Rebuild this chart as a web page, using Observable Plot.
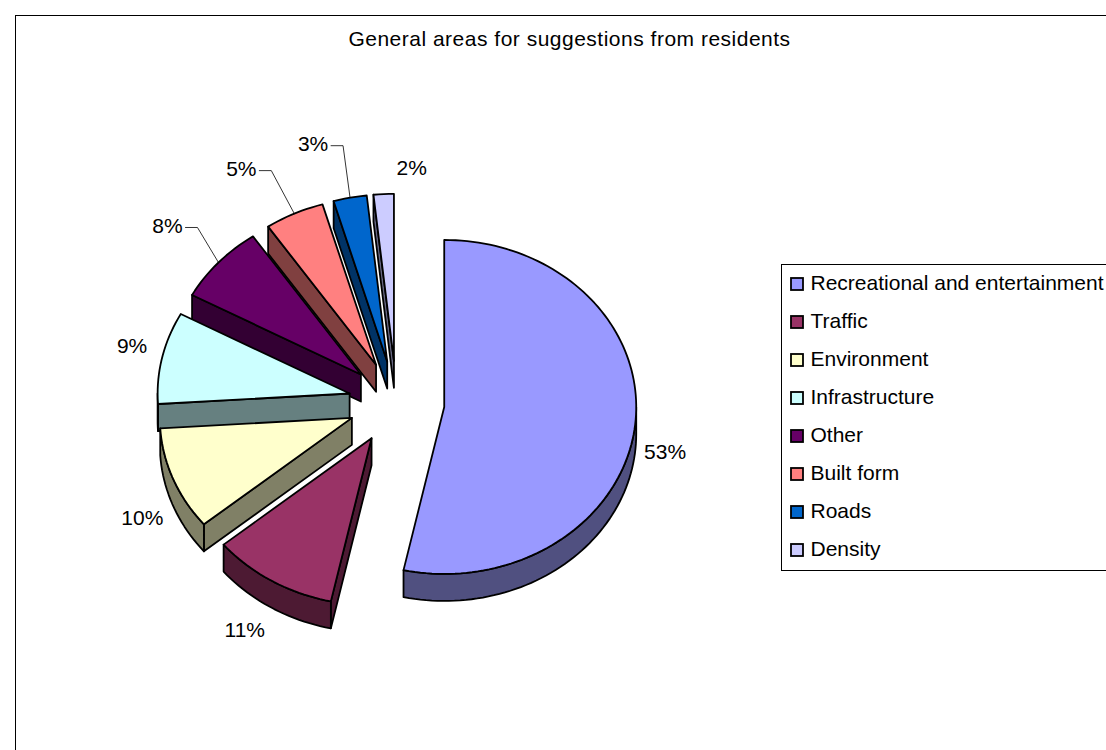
<!DOCTYPE html>
<html><head><meta charset="utf-8">
<script src="https://cdn.jsdelivr.net/npm/d3@7"></script>
<script src="https://cdn.jsdelivr.net/npm/@observablehq/plot@0.6"></script>
<style>html,body{margin:0;padding:0;background:#fff;overflow:hidden}svg{display:block}</style>
</head><body><div id="chart"></div>
<script>
const categories = ["Recreational and entertainment","Traffic","Environment","Infrastructure","Other","Built form","Roads","Density"];
const shares = [53.4,10.6,10.0,8.9,7.6,5.0,2.8,1.7];
const topColors = ["#9999FF","#993366","#FFFFCC","#CCFFFF","#660066","#FF8080","#0066CC","#CCCCFF"];
const wallColors = ["#505080","#4D1A33","#808066","#668080","#330033","#804040","#003366","#666680"];
const labelOffsets = [[30,28],[-27,49],[-31,39],[-30,-11],[-51,-36],[-53,-44],[-37,-53],[28,-26]];
const hasLeader = [false,false,false,false,true,true,true,false];

const title = "General areas for suggestions from residents";
const W = 1106, H = 750;
const cx = 396, cy = 402, rx = 192, ry = 167, depth = 27, explode = 48;
const FONT = "Liberation Sans, Arial, sans-serif";
const rad = f => f * 2 * Math.PI;

let acc = 0;
const slices = shares.map((v, i) => {
  const a0 = rad(acc / 100); acc += v; const a1 = rad(acc / 100);
  const mid = (a0 + a1) / 2;
  const ax = cx + explode * Math.sin(mid), ay = cy - explode * (ry / rx) * Math.cos(mid);
  return {i, v, a0, a1, mid, ax, ay};
});
const rimPoint = (s, a, d = 0) => ({x: s.ax + rx * Math.sin(a), y: s.ay - ry * Math.cos(a) + d});
const arc = (s, a0, a1, d = 0) => {
  const n = Math.max(2, Math.ceil(Math.abs(a1 - a0) / 0.03));
  return d3.range(n + 1).map(k => rimPoint(s, a0 + (a1 - a0) * k / n, d));
};
const shape = (pts, fill) => Plot.line(pts, {x: "x", y: "y", fill, stroke: "#000", strokeWidth: 1.8, curve: "linear-closed", strokeLinejoin: "round"});

const sliceMarks = [];
[...slices].reverse().forEach(s => {
  const apex = {x: s.ax, y: s.ay}, apexLow = {x: s.ax, y: s.ay + depth};
  const wall = wallColors[s.i];
  for (const a of [s.a0, s.a1]) {
    const faces = a === s.a0 ? Math.sin(a) < -1e-6 : Math.sin(a) > 1e-6;
    if (faces) sliceMarks.push(shape([apex, rimPoint(s, a), rimPoint(s, a, depth), apexLow], wall));
  }
  const r0 = Math.max(s.a0, Math.PI / 2), r1 = Math.min(s.a1, 3 * Math.PI / 2);
  if (r1 > r0) sliceMarks.push(shape([...arc(s, r0, r1), ...arc(s, r1, r0, depth)], wall));
  sliceMarks.push(shape([apex, ...arc(s, s.a0, s.a1)], topColors[s.i]));
});

const labels = slices.map(s => {
  const p = {x: cx + (rx + explode) * Math.sin(s.mid), y: cy - (ry + explode * ry / rx) * Math.cos(s.mid)};
  return {x: p.x + labelOffsets[s.i][0], y: p.y + labelOffsets[s.i][1], rim: p, text: Math.round(s.v) + "%", leader: hasLeader[s.i]};
});
const leaderMarks = labels.filter(l => l.leader).map(l =>
  Plot.line([{x: l.x + 18, y: l.y + 1}, {x: l.x + 30, y: l.y + 1}, l.rim], {x: "x", y: "y", stroke: "#000", strokeWidth: 0.8}));

const legendX = 781, legendTop = 264, legendBottom = 570, rowStart = 284, rowStep = 38;
const legend = categories.map((c, i) => ({c, i, y: rowStart + i * rowStep, fill: topColors[i]}));

const chart = Plot.plot({
  width: W, height: H, margin: 0,
  x: {domain: [0, W], range: [0, W], axis: null},
  y: {domain: [0, H], range: [0, H], axis: null},
  color: {type: "identity"},
  marks: [
    Plot.ruleX([15], {y1: 15, y2: H, stroke: "#000", strokeWidth: 1}),
    Plot.ruleY([15], {x1: 15, x2: W, stroke: "#000", strokeWidth: 1}),
    Plot.text([title], {x: 569, y: 39, text: d => d, fontFamily: FONT, fontSize: 21, fill: "#000"}),
    ...leaderMarks,
    ...sliceMarks,
    Plot.text(labels, {x: "x", y: "y", text: "text", fontFamily: FONT, fontSize: 21, fill: "#000"}),
    Plot.ruleX([legendX], {y1: legendTop, y2: legendBottom, stroke: "#000", strokeWidth: 1}),
    Plot.ruleY([legendTop, legendBottom], {x1: legendX, x2: W, stroke: "#000", strokeWidth: 1}),
    Plot.rect(legend, {x1: 791, x2: 803, y1: d => d.y - 6, y2: d => d.y + 6, fill: "fill", stroke: "#000", strokeWidth: 1.8}),
    Plot.text(legend, {x: 810, y: d => d.y - 1, text: "c", textAnchor: "start", fontFamily: FONT, fontSize: 21, fill: "#000"})
  ]
});
chart.querySelectorAll("text").forEach(t => {
  if (t.textContent === title) t.style.letterSpacing = "0.5px";
});
document.getElementById("chart").appendChild(chart);
</script></body></html>
